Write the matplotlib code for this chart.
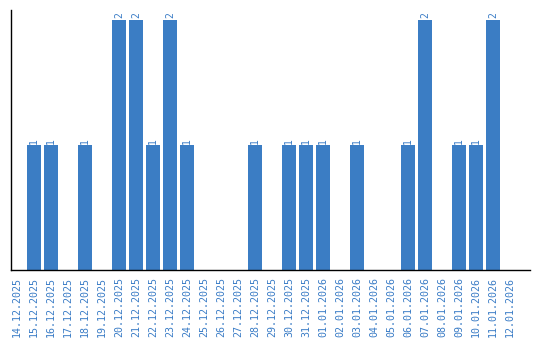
import matplotlib
matplotlib.use("Agg")
import matplotlib.pyplot as plt

dates = ["14.12.2025", "15.12.2025", "16.12.2025", "17.12.2025", "18.12.2025",
         "19.12.2025", "20.12.2025", "21.12.2025", "22.12.2025", "23.12.2025",
         "24.12.2025", "25.12.2025", "26.12.2025", "27.12.2025", "28.12.2025",
         "29.12.2025", "30.12.2025", "31.12.2025", "01.01.2026", "02.01.2026",
         "03.01.2026", "04.01.2026", "05.01.2026", "06.01.2026", "07.01.2026",
         "08.01.2026", "09.01.2026", "10.01.2026", "11.01.2026", "12.01.2026"]
counts = [0, 1, 1, 0, 1, 0, 2, 2, 1, 2, 1, 0, 0, 0, 1, 0, 1, 1, 1, 0,
          1, 0, 0, 1, 2, 0, 1, 1, 2, 0]

blue = "#3b7dc4"
label_blue = "#3a7cc6"

fig = plt.figure(figsize=(5.4, 3.4), dpi=100)
ax = fig.add_axes([11/540, 1 - 270/340, (530 - 11)/540, (270 - 10)/340])

x = list(range(len(dates)))
bars = ax.bar(x, counts, width=0.82, color=blue)
for xi, c in zip(x, counts):
    if c > 0:
        ax.text(xi, c + 0.012, str(c), rotation=90, ha="center", va="bottom",
                fontsize=7, family="DejaVu Sans Mono", color=label_blue)

ax.set_xlim(-0.35, 30.18)
ax.set_ylim(0, 2.08)
ax.set_xticks(x)
ax.set_xticklabels(dates, rotation=90, fontsize=7.2, family="DejaVu Sans Mono",
                   color=label_blue)
ax.tick_params(axis="x", length=0, pad=5)
ax.set_yticks([])
ax.spines["top"].set_visible(False)
ax.spines["right"].set_visible(False)
ax.spines["left"].set_linewidth(1.0)
ax.spines["bottom"].set_linewidth(1.0)

fig.savefig("out.png", dpi=100)
